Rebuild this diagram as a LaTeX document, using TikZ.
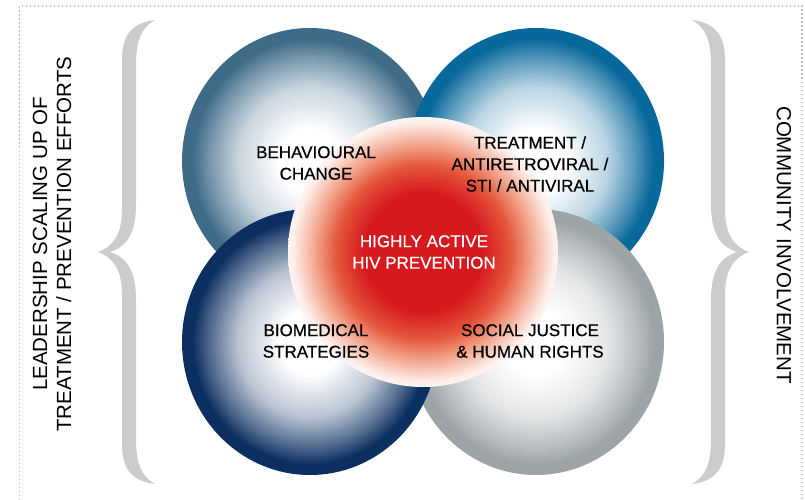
\documentclass[tikz,border=0pt]{standalone}
\usepackage{fontspec}
\setmainfont{Liberation Sans}
\newfontfamily\ballfont[FakeBold=0.6]{Liberation Sans}
\usepackage{tikz}
\usetikzlibrary{shapes.geometric,positioning}

\definecolor{tlblue}{HTML}{3E6B88}
\definecolor{trblue}{HTML}{07689B}
\definecolor{blnavy}{HTML}{0B2F60}
\definecolor{brgray}{HTML}{9DA4A7}
\definecolor{hivred}{HTML}{D6191F}
\definecolor{hivorange}{HTML}{E4553A}
\definecolor{hivpeach}{HTML}{F2A58C}
\definecolor{bracegray}{HTML}{CBCCCE}
\definecolor{framegray}{HTML}{BDBDBD}

% white core fading to a solid coloured rim (25bp = rim of the shape)
\newcommand{\ballshading}[2]{%
  \pgfdeclareradialshading{#1}{\pgfpoint{0bp}{0bp}}{color(0bp)=(white); color(6bp)=(white); color(14bp)=(#2!28!white); color(19.5bp)=(#2!70!white); color(23bp)=(#2); color(50bp)=(#2)}}
\ballshading{tlball}{tlblue}
\ballshading{trball}{trblue}
\ballshading{blball}{blnavy}
\ballshading{brball}{brgray}
\pgfdeclareradialshading{redball}{\pgfpoint{0bp}{0bp}}{color(0bp)=(hivred); color(11bp)=(hivred); color(16bp)=(hivorange); color(20bp)=(hivpeach); color(24bp)=(hivpeach!20!white); color(25bp)=(hivpeach!12!white); color(50bp)=(hivpeach!12!white)}

\tikzset{
  ball/.style={ellipse, shade, inner sep=0pt, outer sep=0pt, minimum width=256pt, minimum height=266pt},
  balltext/.style={font=\ballfont\fontsize{17}{21.5}\selectfont, align=center, inner sep=0pt},
  sidetext/.style={font=\fontsize{20.5}{24}\selectfont, align=center, inner sep=0pt},
  brace/.pic={
    \fill[bracegray] (57,232) .. controls (33,229) and (24,216) .. (24,192)
      -- (24,44) .. controls (24,18) and (16,6) .. (0,0)
      .. controls (16,-6) and (24,-18) .. (24,-44)
      -- (24,-192) .. controls (24,-216) and (33,-229) .. (57,-232)
      .. controls (44,-225) and (38,-212) .. (38,-188)
      -- (38,-48) .. controls (38,-20) and (30,-6) .. (12,0)
      .. controls (30,6) and (38,20) .. (38,48)
      -- (38,188) .. controls (38,212) and (44,225) .. (57,232) -- cycle;
  }
}

\begin{document}
\begin{tikzpicture}[x=1pt,y=1pt]
  \useasboundingbox (0,0) rectangle (805,499);
  \draw[framegray, line width=1.5pt, dash pattern=on 1.5pt off 2.5pt] (19.5,-5) -- (19.5,493) -- (802,493) -- (802,-5); % dotted frame

  \pic at (98,247) {brace}; % left brace
  \pic[xscale=-1] at (749,247) {brace}; % right brace

  % the four outer balls, back to front
  \node[ball, shading=tlball] (tl) at (310,338) {};
  \node[ball, shading=trball] (tr) at (536,338) {};
  \node[ball, shading=brball] (br) at (536,157) {};
  \node[ball, shading=blball] (bl) at (310,157) {};
  \node[circle, shade, shading=redball, inner sep=0pt, minimum size=270pt] (hiv) at (423,247) {}; % centre

  \node[balltext] (behav) at (316,336) {BEHAVIOURAL\\CHANGE};
  \node[balltext] (treat) at (530,335) {TREATMENT /\\ANTIRETROVIRAL /\\STI / ANTIVIRAL};
  \node[balltext, text=white] (active) at (424,247) {HIGHLY ACTIVE\\HIV PREVENTION};
  \node[balltext] (biomed) at (316,158) {BIOMEDICAL\\STRATEGIES};
  \node[balltext] (social) at (530,158) {SOCIAL JUSTICE\\\& HUMAN RIGHTS};

  \node[sidetext, rotate=90] (leader) at (52,255) {LEADERSHIP SCALING UP OF\\TREATMENT / PREVENTION EFFORTS};
  \node[sidetext, rotate=-90] (community) at (784,254) {COMMUNITY INVOLVEMENT};
\end{tikzpicture}
\end{document}
